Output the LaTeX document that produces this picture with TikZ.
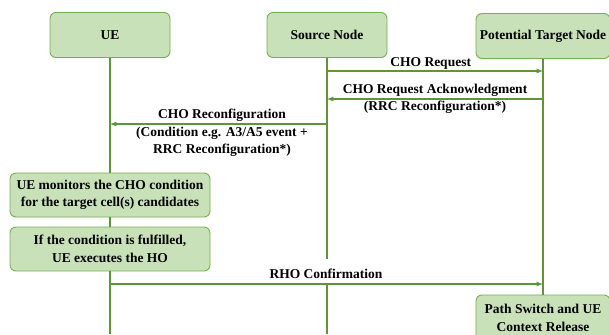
\documentclass[tikz,border=0pt]{standalone}
\usepackage{fontspec}
\setmainfont{Liberation Serif}
\definecolor{boxfill}{RGB}{201,225,185}
\definecolor{boxline}{RGB}{118,176,80}
\definecolor{msgline}{RGB}{92,150,58}
\tikzset{
  box/.style={draw=boxline, fill=boxfill, rounded corners=6pt, line width=0.9pt, align=center, inner sep=2pt},
  life/.style={draw=msgline, line width=1.2pt},
  msg/.style={msgline, line width=1.2pt, -latex},
  txt/.style={align=center, inner sep=1pt, text=black}
}
\begin{document}
\begin{tikzpicture}[x=1pt, y=-1pt, font=\bfseries\fontsize{13.5}{17.5}\selectfont]
			\clip (0,0) rectangle (609,334);
			\fill[white] (0,0) rectangle (609,334);
			% entities
			\node[box, minimum width=120, minimum height=45] (ue) at (110,35) {UE};
			\node[box, minimum width=120, minimum height=45] (src) at (327,35) {Source Node};
			\node[box, minimum width=134, minimum height=45] (tgt) at (543,36) {Potential Target Node};
			% UE side boxes
			\node[box, minimum width=200, minimum height=44] (mon) at (110,195) {UE monitors the CHO condition\\for the target cell(s) candidates};
			\node[box, minimum width=200, minimum height=44] (exe) at (110,249) {If the condition is fulfilled,\\UE executes the HO};
			\node[box, minimum width=134, minimum height=46] (ps) at (543,318) {Path Switch and UE\\Context Release};
			% lifelines
			\coordinate (ueEnd) at (110,334);
			\coordinate (srcEnd) at (327,334);
			\draw[life] (ue) -- (mon);
			\draw[life] (mon) -- (exe);
			\draw[life] (exe) -- (ueEnd);
			\draw[life] (src) -- (srcEnd);
			\draw[life] (tgt) -- (ps);
			% messages
			\draw[msg] (src.south |- 0,71) -- (tgt.south |- 0,71) node[txt, anchor=south, pos=0.48] {CHO Request};
			\draw[msg] (tgt.south |- 0,99) -- (src.south |- 0,99) node[txt, pos=0.5] (ack) {CHO Request Acknowledgment\\(RRC Reconfiguration*)};
			\draw[msg] (src.south |- 0,124) -- (ue.south |- 0,124);
			\node[txt] (reconf) at (222,133) {CHO Reconfiguration\\(Condition e.g. A3/A5 event +\\RRC Reconfiguration*)};
			\node[txt, fill=white, inner ysep=0pt, inner xsep=3pt, text height=20pt, text depth=6pt, anchor=base] (rho) at (326,278.5) {RHO Confirmation};
			\draw[msg] (exe.south |- 0,284) -- (tgt.south |- 0,284);
		\end{tikzpicture}
\end{document}
